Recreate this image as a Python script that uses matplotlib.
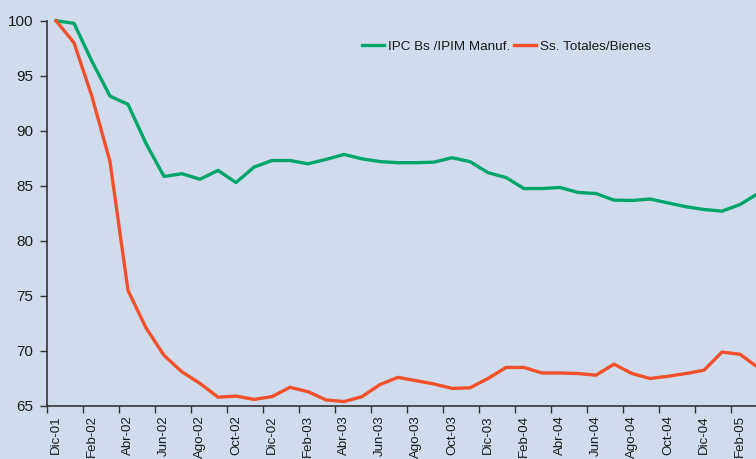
import matplotlib
matplotlib.use("Agg")
import matplotlib.pyplot as plt

# monthly index, Dic-01 = 100 (last point Mar-05 runs off the right edge)
ipc_manuf = [100.0, 99.76, 96.3, 93.15, 92.4, 88.85, 85.85, 86.1, 85.6, 86.4,
             85.3, 86.7, 87.3, 87.3, 87.0, 87.4, 87.85, 87.45, 87.2, 87.1,
             87.1, 87.15, 87.55, 87.2, 86.2, 85.75, 84.75, 84.75, 84.85, 84.4,
             84.3, 83.7, 83.67, 83.8, 83.45, 83.1, 82.85, 82.7, 83.3, 84.3]
ss_bienes = [100.0, 98.0, 93.1, 87.2, 75.5, 72.1, 69.6, 68.1, 67.05, 65.8,
             65.9, 65.6, 65.85, 66.7, 66.3, 65.55, 65.4, 65.85, 66.95, 67.6,
             67.3, 67.0, 66.6, 66.65, 67.5, 68.5, 68.5, 68.0, 68.0, 67.95,
             67.8, 68.8, 67.95, 67.5, 67.7, 67.95, 68.25, 69.9, 69.7, 68.5]
tick_labels = ["Dic-01", "Feb-02", "Abr-02", "Jun-02", "Ago-02", "Oct-02",
               "Dic-02", "Feb-03", "Abr-03", "Jun-03", "Ago-03", "Oct-03",
               "Dic-03", "Feb-04", "Abr-04", "Jun-04", "Ago-04", "Oct-04",
               "Dic-04", "Feb-05"]
yticks = [65, 70, 75, 80, 85, 90, 95, 100]

plt.rcParams['font.family'] = ['Liberation Sans', 'DejaVu Sans']
bg = '#d0dcec'
green = '#00a56a'
red = '#f2502a'
txt = '#1a1a1a'

fig = plt.figure(figsize=(7.56, 4.59), dpi=100, facecolor=bg)
ax = fig.add_axes([47 / 756, 53 / 459, 1 - 47 / 756, (406 - 20.7) / 459])
ax.set_facecolor(bg)

x = range(len(ipc_manuf))
ax.plot(x, ipc_manuf, color=green, lw=2.4, clip_on=False,
        label='IPC Bs /IPIM Manuf.')
ax.plot(x, ss_bienes, color=red, lw=2.4, clip_on=False,
        label='Ss. Totales/Bienes')

ax.set_xlim(-0.5, (756 - 47) / 18 - 0.5)
ax.set_ylim(65, 100)

# ticks between categories, labels under every second category
ax.set_xticks([i - 0.5 for i in range(0, 40, 2)])
ax.set_xticklabels([])
ax.set_xticks(list(range(0, 40, 2)), minor=True)
ax.set_xticklabels(tick_labels, minor=True, rotation=90, fontsize=9.5,
                   va='top', ha='center', color=txt)
ax.tick_params(axis='x', which='major', length=5, width=1, color='#333333',
               direction='out')
ax.tick_params(axis='x', which='minor', length=0, pad=6.5)

ax.set_yticks(yticks)
ax.set_yticklabels([str(v) for v in yticks], fontsize=11, color=txt)
ax.tick_params(axis='y', length=5, width=1, color='#333333', pad=5)

for s in ['top', 'right']:
    ax.spines[s].set_visible(False)
for s in ['left', 'bottom']:
    ax.spines[s].set_color('#333333')
    ax.spines[s].set_linewidth(1.2)

leg = ax.legend(loc='center', bbox_to_anchor=(0.648, 0.932), ncol=2,
                frameon=False, fontsize=9.7, handlelength=1.65,
                handletextpad=0.25, columnspacing=0.3)
for t in leg.get_texts():
    t.set_color(txt)

fig.savefig('out.png', dpi=100, facecolor=bg)
